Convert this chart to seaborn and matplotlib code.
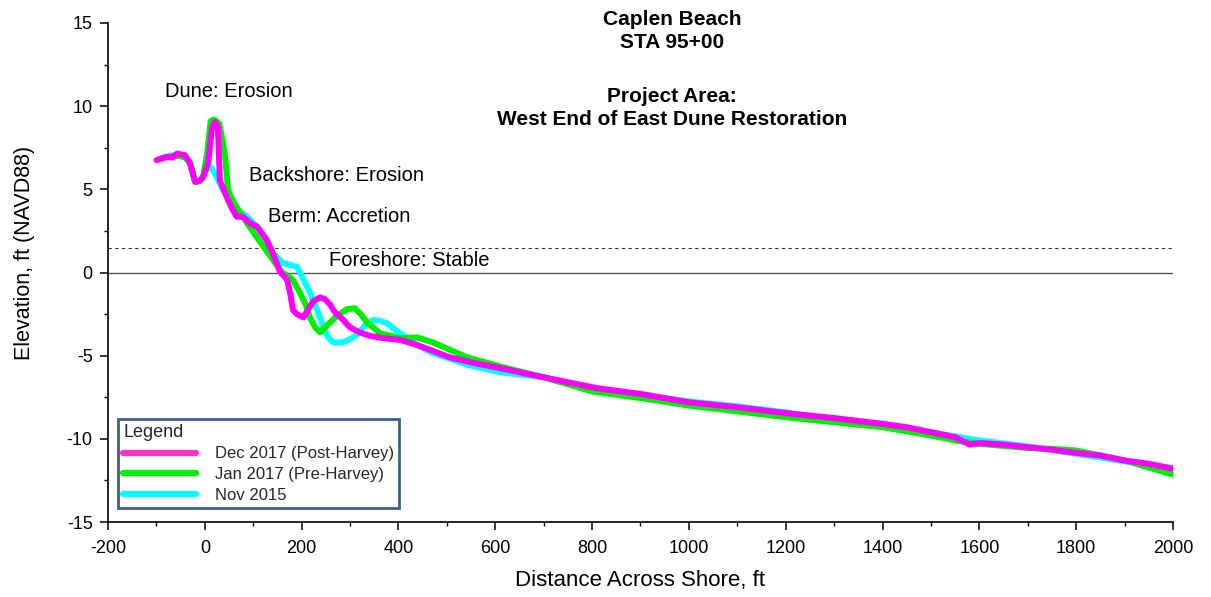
import matplotlib
matplotlib.use("Agg")
import matplotlib.pyplot as plt
from matplotlib.lines import Line2D
from matplotlib.ticker import MultipleLocator
import seaborn as sns
import pandas as pd

# ---- data -----------------------------------------------------------------
dec2017_x = [-100, -90, -78, -68, -57, -41, -31, -20, -12, -4, 7, 15, 21, 27, 31, 40, 48, 57, 66, 79,
             92, 108, 118, 128, 140, 155, 163, 170, 176, 182, 190, 203, 212, 223, 238, 248, 258, 269,
             284, 300, 320, 340, 368, 403, 438, 470, 506, 550, 610, 700, 810, 900, 1000, 1100, 1200,
             1300, 1400, 1450, 1500, 1550, 1580, 1600, 1650, 1700, 1750, 1800, 1850, 1900, 1950, 2000]
dec2017_y = [6.75, 6.85, 6.95, 6.9, 7.15, 7.05, 6.6, 5.45, 5.5, 5.7, 6.6, 8.75, 9.05, 8.75, 5.55, 4.9,
             4.35, 3.8, 3.35, 3.35, 3.0, 2.75, 2.35, 1.95, 1.2, 0.05, -0.2, -0.45, -1.2, -2.25, -2.5,
             -2.7, -2.3, -1.75, -1.5, -1.6, -1.9, -2.4, -2.8, -3.3, -3.6, -3.8, -3.95, -4.05, -4.35,
             -4.7, -5.1, -5.4, -5.75, -6.3, -6.95, -7.3, -7.8, -8.1, -8.45, -8.75, -9.1, -9.3, -9.6,
             -9.9, -10.35, -10.25, -10.35, -10.5, -10.65, -10.85, -11.0, -11.3, -11.5, -11.8]

jan2017_x = [-95, -80, -65, -50, -40, -31, -20, -10, -4, 5, 12, 18, 24, 30, 36, 42, 48, 60, 73, 90,
             108, 125, 141, 160, 176, 182, 197, 208, 217, 228, 238, 255, 273, 294, 310, 322, 335, 362,
             403, 438, 471, 542, 610, 700, 800, 900, 1000, 1100, 1200, 1300, 1400, 1500, 1550, 1600,
             1700, 1750, 1800, 1900, 2000]
jan2017_y = [6.8, 6.95, 7.0, 7.0, 6.9, 6.6, 5.45, 5.5, 5.7, 7.2, 9.1, 9.2, 9.1, 8.95, 8.0, 6.95, 4.95,
             4.2, 3.6, 2.85, 2.1, 1.4, 0.75, 0.0, -0.3, -0.45, -1.25, -1.9, -2.7, -3.3, -3.6, -3.1,
             -2.6, -2.2, -2.15, -2.5, -3.0, -3.65, -3.95, -3.9, -4.2, -5.1, -5.65, -6.3, -7.15, -7.55,
             -8.0, -8.35, -8.7, -9.0, -9.3, -9.8, -10.1, -10.3, -10.55, -10.6, -10.7, -11.3, -12.15]

nov2015_x = [-95, -80, -65, -50, -40, -31, -20, -10, -4, 5, 12, 20, 27, 35, 48, 60, 75, 87, 108, 125,
             141, 160, 176, 190, 200, 217, 230, 244, 255, 265, 285, 300, 314, 330, 347, 362, 376, 403,
             438, 471, 513, 542, 610, 700, 800, 900, 1000, 1100, 1200, 1300, 1400, 1500, 1600, 1700,
             1800, 1900, 2000]
nov2015_y = [6.8, 6.95, 7.05, 7.0, 6.9, 6.6, 5.45, 5.5, 5.75, 6.3, 6.35, 6.0, 5.6, 5.1, 4.5, 4.0, 3.6,
             3.35, 2.75, 2.0, 1.15, 0.6, 0.45, 0.35, -0.2, -1.2, -2.1, -3.2, -3.9, -4.2, -4.2, -4.0,
             -3.75, -3.2, -2.85, -2.9, -3.05, -3.65, -4.35, -4.85, -5.25, -5.55, -6.0, -6.3, -7.0,
             -7.35, -7.75, -8.05, -8.4, -8.85, -9.2, -9.6, -10.1, -10.45, -10.9, -11.35, -11.75]

series_labels = ["Dec 2017 (Post-Harvey)", "Jan 2017 (Pre-Harvey)", "Nov 2015"]
series_colors = ["#ff00ff", "#00ee00", "#00ffff"]
legend_colors = ["#ff33cc", "#00ee00", "#00ffff"]

zones = ["Dune: Erosion", "Backshore: Erosion", "Berm: Accretion", "Foreshore: Stable"]
zone_x = [50, 273, 277, 422]
zone_y = [10.9, 5.85, 3.35, 0.7]

title_lines = ["Caplen Beach", "STA 95+00", "Project Area:", "West End of East Dune Restoration"]

x_ticks = list(range(-200, 2001, 200))
y_ticks = list(range(-15, 16, 5))

# ---- plot -----------------------------------------------------------------
sns.set_theme(style="white")
plt.rcParams["font.family"] = ["Liberation Sans", "DejaVu Sans"]
plt.rcParams["axes.unicode_minus"] = False

fig = plt.figure(figsize=(12.11, 5.97), dpi=100)
ax = fig.add_axes([0.0892, 0.1256, 0.8794, 0.8359])

frames = [
    (nov2015_x, nov2015_y, series_colors[2]),
    (jan2017_x, jan2017_y, series_colors[1]),
    (dec2017_x, dec2017_y, series_colors[0]),
]
for xs, ys, c in frames:
    df = pd.DataFrame({"x": xs, "y": ys})
    sns.lineplot(data=df, x="x", y="y", color=c, linewidth=4.3, ax=ax,
                 estimator=None, sort=True, solid_joinstyle="round", solid_capstyle="round")

ax.axhline(0, color="#555555", linewidth=1.0, zorder=1)
ax.axhline(1.5, color="#333333", linewidth=0.8, linestyle=(0, (3, 3)), zorder=1)

ax.set_xlim(-200, 2000)
ax.set_ylim(-15, 15)
ax.set_xticks(x_ticks)
ax.set_yticks(y_ticks)
ax.xaxis.set_minor_locator(MultipleLocator(100))
ax.yaxis.set_minor_locator(MultipleLocator(2.5))
ax.tick_params(axis="both", which="major", direction="out", length=6, width=1.1,
               color="black", labelsize=13, labelcolor="black", bottom=True, left=True)
ax.tick_params(axis="x", which="major", pad=7)
ax.tick_params(axis="y", which="major", pad=5)
ax.tick_params(axis="both", which="minor", direction="out", length=3, width=1.0,
               color="black", bottom=True, left=True)

for s in ["top", "right"]:
    ax.spines[s].set_visible(False)
for s in ["left", "bottom"]:
    ax.spines[s].set_color("black")
    ax.spines[s].set_linewidth(1.2)

ax.set_xlabel("Distance Across Shore, ft", fontsize=16, color="black", labelpad=9)
ax.set_ylabel("Elevation, ft (NAVD88)", fontsize=15.5, color="black")
ax.yaxis.set_label_coords(-0.069, 0.54)

for t, zx, zy in zip(zones, zone_x, zone_y):
    ax.text(zx, zy, t, fontsize=14.5, ha="center", va="center", color="black")

title_y = [0.968, 0.928, 0.839, 0.800]
for t, ty in zip(title_lines, title_y):
    fig.text(0.555, ty, t, fontsize=15, fontweight="bold", ha="center", va="center", color="black")

handles = [Line2D([0], [0], color=c, linewidth=4.5) for c in legend_colors]
leg = ax.legend(handles, series_labels, title="Legend", loc="lower left",
                bbox_to_anchor=(0.0094, 0.028), frameon=True, fancybox=False,
                fontsize=12, title_fontsize=13, handlelength=4.4, handletextpad=1.1,
                labelspacing=0.35, borderpad=0.3, alignment="left", borderaxespad=0)
leg.get_frame().set_edgecolor("#3f5f8a")
leg.get_frame().set_linewidth(2)
leg.get_frame().set_facecolor("white")
leg.get_frame().set_alpha(1)

fig.savefig("out.png", dpi=100, facecolor="white")
